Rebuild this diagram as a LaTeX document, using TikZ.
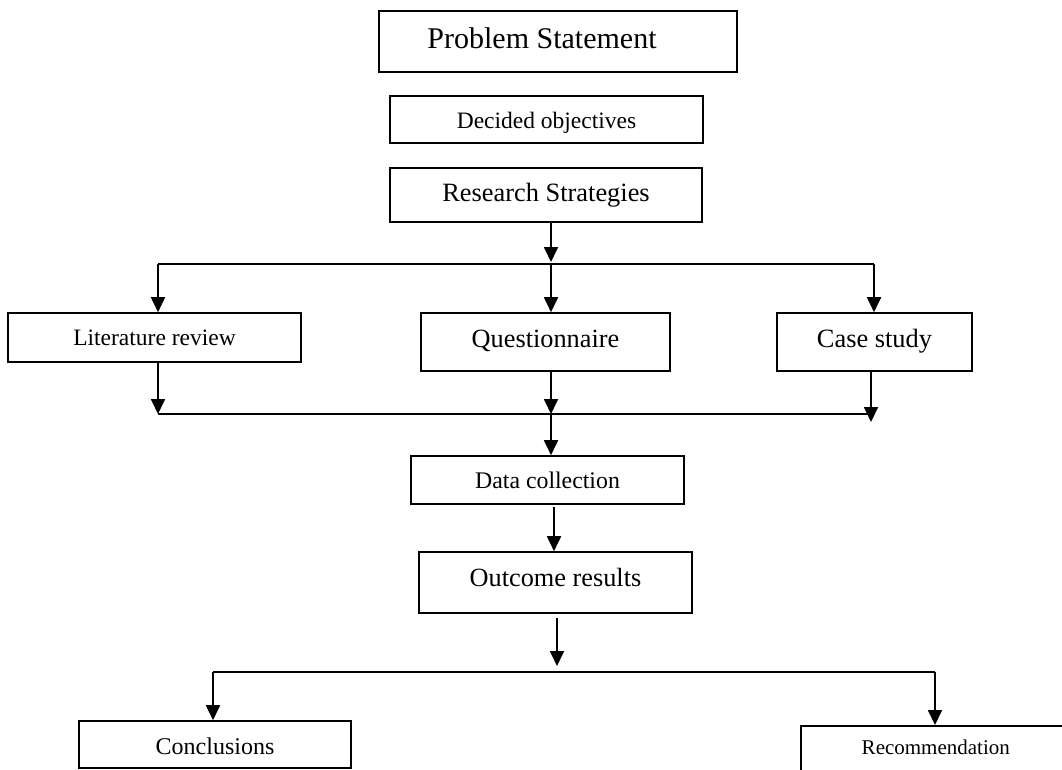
\documentclass[tikz,border=0pt]{standalone}
\usepackage{fontspec}
\setmainfont{Liberation Serif}
\usetikzlibrary{arrows.meta}

\tikzset{
  box/.style={draw, line width=1.6pt, inner sep=0pt},
  wire/.style={line width=1.8pt},
  arr/.style={line width=1.8pt, -{Triangle[length=15pt,width=14pt]}},
}
% font of a given size in pt
\newcommand{\fs}[1]{\fontsize{#1}{#1}\selectfont}

\begin{document}
\begin{tikzpicture}[x=1pt,y=-1pt]
\useasboundingbox (0,0) rectangle (1062,769);

% --- boxes ---
\node[box, minimum width=358pt, minimum height=61pt, font=\fs{30},
      text height=22.5pt, text depth=9.5pt] (ps) at (558,41.5) {Problem Statement\hspace*{32pt}};
\node[box, minimum width=313pt, minimum height=47pt, font=\fs{23.5},
      text height=17.6pt, text depth=0.6pt] (obj) at (546.5,119.5) {Decided objectives};
\node[box, minimum width=312pt, minimum height=54pt, font=\fs{26.4},
      text height=19.8pt, text depth=7.8pt] (rs) at (546,195) {Research Strategies};

\node[box, minimum width=293pt, minimum height=49pt, font=\fs{23.5},
      text height=17.6pt, text depth=2.6pt] (lit) at (154.5,337.5) {Literature review};
\node[box, minimum width=249pt, minimum height=58pt, font=\fs{26.3},
      text height=19.7pt, text depth=9.7pt] (quest) at (545.5,342) {Questionnaire};
\node[box, minimum width=195pt, minimum height=58pt, font=\fs{26.4},
      text height=19.8pt, text depth=9.8pt] (case) at (874.5,342) {Case study};

\node[box, minimum width=273pt, minimum height=48pt, font=\fs{23.8},
      text height=17.9pt, text depth=1.9pt] (data) at (547.5,480) {Data collection};
\node[box, minimum width=273pt, minimum height=61pt, font=\fs{26.3},
      text height=19.7pt, text depth=11.7pt] (out) at (555.5,582.5) {Outcome results};

\node[box, minimum width=272pt, minimum height=47pt, font=\fs{24},
      text height=19pt, text depth=0pt] (conc) at (215,744.5) {Conclusions};
\node[box, anchor=north west, minimum width=270pt, font=\fs{21},
      text height=29pt, text depth=36pt] (rec) at (800,725) {Recommendation};

% --- split below the research strategies ---
\coordinate (sL) at (158,264);
\coordinate (sM) at (551,264);
\coordinate (sR) at (874,264);
\draw[arr, shorten >=2pt] (rs.south -| sM) -- (sM);
\draw[wire] (sL) -- (sR);
\draw[arr] (sL) -- (lit.north -| sL);
\draw[arr] (sM) -- (quest.north -| sM);
\draw[arr] (sR) -- (case.north -| sR);

% --- merge into data collection ---
\coordinate (mL) at (158,414);
\coordinate (mM) at (551,414);
\coordinate (mR) at (871,414);
\coordinate (mRtip) at (871,422);
\draw[wire] (mL) -- (mR);
\draw[arr] (lit.south -| mL) -- (mL);
\draw[arr] (case.south -| mR) -- (mRtip);
\draw[arr] (quest.south -| mM) -- (mM);
\draw[arr] (mM) -- (data.north -| mM);

% --- data collection to outcome ---
\coordinate (dM) at (554,0);
\draw[arr, shorten <=2pt] (data.south -| dM) -- (out.north -| dM);

% --- split into conclusions and recommendation ---
\coordinate (bL) at (213,672);
\coordinate (bM) at (557,672);
\coordinate (bR) at (935,672);
\draw[arr, shorten <=4pt, shorten >=6pt] (out.south -| bM) -- (bM);
\draw[wire] (bL) -- (bR);
\draw[arr] (bL) -- (conc.north -| bL);
\draw[arr] (bR) -- (rec.north -| bR);
\end{tikzpicture}
\end{document}
